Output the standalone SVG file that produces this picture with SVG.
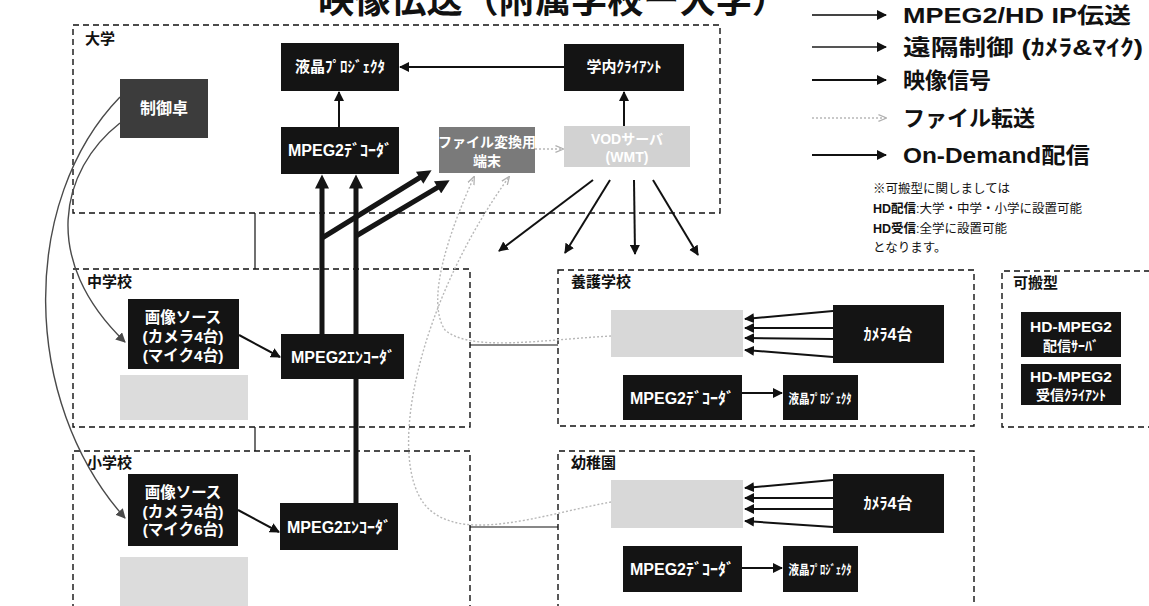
<svg xmlns="http://www.w3.org/2000/svg" width="1149" height="606" viewBox="0 0 1149 606">
<defs>
<style>
text{font-family:"Liberation Sans","Noto Sans CJK JP",sans-serif;}
.t{fill:#fff;font-weight:bold;text-anchor:middle;}
.lbl{fill:#111;font-weight:bold;font-size:15px;}
.frame{fill:none;stroke:#111;stroke-width:1.4;stroke-dasharray:6,4;}
.blk{fill:#141414;}
.thin{stroke:#111;stroke-width:2;fill:none;marker-end:url(#a);}
.thick{stroke:#151515;stroke-width:5;fill:none;marker-end:url(#tk);}
.ctl{stroke:#4a4a4a;stroke-width:1.4;fill:none;marker-end:url(#ac);}
.file{stroke:#b8b8b8;stroke-width:1.4;stroke-dasharray:2,2;fill:none;marker-end:url(#af);}
.link{stroke:#111;stroke-width:1.2;fill:none;}
.leg{fill:#111;font-size:22px;}
.note{fill:#111;font-size:12.5px;}
</style>
<marker id="a" viewBox="0 0 10 10" refX="9" refY="5" markerWidth="5" markerHeight="5" orient="auto" markerUnits="strokeWidth"><path d="M0,0 L10,5 L0,10 z" fill="#111"/></marker>
<marker id="tk" viewBox="0 0 10 10" refX="5" refY="5" markerWidth="3" markerHeight="2.8" orient="auto" markerUnits="strokeWidth"><path d="M0,0 L10,5 L0,10 z" fill="#151515"/></marker>
<marker id="ac" viewBox="0 0 10 10" refX="9" refY="5" markerWidth="7" markerHeight="7" orient="auto" markerUnits="strokeWidth"><path d="M0,0 L10,5 L0,10 z" fill="#4a4a4a"/></marker>
<marker id="af" viewBox="0 0 10 10" refX="9" refY="5" markerWidth="6" markerHeight="6" orient="auto" markerUnits="strokeWidth"><path d="M0,1 L10,5 L0,9" fill="none" stroke="#b0b0b0" stroke-width="1.5"/></marker>
</defs>
<rect width="1149" height="606" fill="#fff"/>

<text x="318" y="13" style="font-size:36px;font-weight:bold;fill:#111;" textLength="470" lengthAdjust="spacingAndGlyphs">映像伝送（附属学校ー大学）</text>

<g id="legend">
<line x1="812" y1="15" x2="886" y2="15" stroke="#444" stroke-width="2" marker-end="url(#a)"/>
<text class="leg" x="903" y="23" font-weight="bold" textLength="228" lengthAdjust="spacingAndGlyphs">MPEG2/HD  IP伝送</text>
<line x1="812" y1="47" x2="886" y2="47" stroke="#555" stroke-width="2" marker-end="url(#a)"/>
<text class="leg" x="903" y="55" font-weight="600" textLength="240" lengthAdjust="spacingAndGlyphs">遠隔制御 (ｶﾒﾗ&amp;ﾏｲｸ)</text>
<line x1="812" y1="80" x2="886" y2="80" stroke="#111" stroke-width="2" marker-end="url(#a)"/>
<text class="leg" x="903" y="88" font-weight="600">映像信号</text>
<line x1="812" y1="118" x2="886" y2="118" class="file"/>
<text class="leg" x="903" y="126" font-weight="600">ファイル転送</text>
<line x1="812" y1="155" x2="886" y2="155" stroke="#111" stroke-width="2" marker-end="url(#a)"/>
<text class="leg" x="903" y="163" font-weight="bold" textLength="187" lengthAdjust="spacingAndGlyphs">On-Demand配信</text>
<text class="note" x="873" y="193">※可搬型に関しましては</text>
<text class="note" x="873" y="213"><tspan font-weight="bold">HD配信</tspan>:大学・中学・小学に設置可能</text>
<text class="note" x="873" y="233"><tspan font-weight="bold">HD受信</tspan>:全学に設置可能</text>
<text class="note" x="873" y="252">となります。</text>
</g>

<g id="frames">
<g id="univ"><rect class="frame" x="73" y="25" width="647" height="188"/><text class="lbl" x="85" y="44">大学</text></g>
<g id="jhs"><rect class="frame" x="73" y="269" width="397" height="158"/><text class="lbl" x="87" y="287">中学校</text></g>
<g id="es"><path class="frame" d="M73,610 V451 H470 V610"/><text class="lbl" x="87" y="468">小学校</text></g>
<g id="special"><rect class="frame" x="558" y="270" width="416" height="156"/><text class="lbl" x="571" y="287">養護学校</text></g>
<g id="kinder"><path class="frame" d="M558,610 V451 H974 V610"/><text class="lbl" x="571" y="468">幼稚園</text></g>
<g id="portable"><path class="frame" d="M1160,271 H1002 V427 H1160"/><text class="lbl" x="1013" y="288">可搬型</text></g>
</g>

<g id="connectors">
<line class="link" x1="255" y1="213" x2="255" y2="269"/>
<line class="link" x1="255" y1="427" x2="255" y2="451"/>
<line class="link" x1="470" y1="345" x2="558" y2="345"/>
<line class="link" x1="470" y1="527" x2="558" y2="527"/>
<line class="thick" x1="356" y1="503" x2="356" y2="181.5"/>
<line class="thick" x1="322" y1="334" x2="322" y2="181.5"/>
<line class="thick" x1="322" y1="238" x2="425.6" y2="174"/>
<line class="thick" x1="356" y1="236" x2="443.6" y2="183.8"/>
<line class="thin" x1="564" y1="67" x2="400" y2="67"/>
<line class="thin" x1="339" y1="127" x2="339" y2="92"/>
<line class="thin" x1="624" y1="126" x2="624" y2="92"/>
<line class="thin" x1="239" y1="335" x2="280" y2="357"/>
<line class="thin" x1="238" y1="510" x2="279" y2="532"/>
<line class="thin" x1="742" y1="393" x2="782" y2="393"/>
<line class="thin" x1="742" y1="568" x2="782" y2="568"/>
<line class="thin" x1="833" y1="311" x2="745" y2="319"/>
<line class="thin" x1="833" y1="328" x2="745" y2="328"/>
<line class="thin" x1="833" y1="339" x2="745" y2="338"/>
<line class="thin" x1="833" y1="357" x2="745" y2="350"/>
<line class="thin" x1="833" y1="480" x2="745" y2="488"/>
<line class="thin" x1="833" y1="498" x2="745" y2="498"/>
<line class="thin" x1="833" y1="509" x2="745" y2="509"/>
<line class="thin" x1="833" y1="527" x2="745" y2="521"/>
<line class="thin" x1="593" y1="180" x2="499" y2="251"/>
<line class="thin" x1="610" y1="180" x2="565" y2="253"/>
<line class="thin" x1="634" y1="180" x2="635" y2="254"/>
<line class="thin" x1="653" y1="180" x2="698" y2="255"/>
<path class="ctl" d="M120,123 C60,170 40,260 125,342"/>
<path class="ctl" d="M120,97 C20,200 20,400 125,518"/>
<line class="file" x1="535" y1="149" x2="563" y2="149"/>
<path class="file" d="M611,336 C540,340 470,352 445,330 C425,300 450,230 474,177"/>
<path class="file" d="M611,502 C540,515 460,545 425,505 C385,455 420,300 509,177"/>
</g>

<g id="n-ctrl"><rect x="120" y="79" width="88" height="59" fill="#3c3c3c"/><text class="t" x="164" y="114" font-size="16">制御卓</text></g>
<g id="n-proj-u"><rect class="blk" x="281" y="43" width="118" height="48"/><text class="t" x="340" y="72" font-size="15">液晶ﾌﾟﾛｼﾞｪｸﾀ</text></g>
<g id="n-dec-u"><rect class="blk" x="281" y="127" width="118" height="47"/><text class="t" x="340" y="156" font-size="16">MPEG2ﾃﾞｺｰﾀﾞ</text></g>
<g id="n-conv"><rect x="439" y="127" width="96" height="46" fill="#7a7a7a"/><text class="t" x="487" y="147" font-size="14" fill="#f0f0f0">ファイル変換用</text><text class="t" x="487" y="166" font-size="14" fill="#f0f0f0">端末</text></g>
<g id="n-client"><rect class="blk" x="564" y="44" width="120" height="47"/><text class="t" x="624" y="72" font-size="15">学内ｸﾗｲｱﾝﾄ</text></g>
<g id="n-vod"><rect x="564" y="126" width="126" height="41" fill="#d2d2d2"/><text class="t" x="627" y="144" font-size="14" fill="#ececec">VODサーバ</text><text class="t" x="627" y="162" font-size="14" fill="#ececec">(WMT)</text></g>

<g id="n-src-j"><rect class="blk" x="128" y="299" width="111" height="70"/><text class="t" x="183" y="323" font-size="15.5">画像ソース</text><text class="t" x="183" y="342" font-size="15.5">(カメラ4台)</text><text class="t" x="183" y="361" font-size="15.5">(マイク4台)</text></g>
<g id="n-pc-j"><rect x="120" y="375" width="128" height="45" fill="#dcdcdc"/></g>
<g id="n-enc-j"><rect class="blk" x="281" y="334" width="123" height="45"/><text class="t" x="343" y="363" font-size="16">MPEG2ｴﾝｺｰﾀﾞ</text></g>

<g id="n-src-e"><rect class="blk" x="128" y="474" width="110" height="72"/><text class="t" x="183" y="498" font-size="15.5">画像ソース</text><text class="t" x="183" y="517" font-size="15.5">(カメラ4台)</text><text class="t" x="183" y="535" font-size="15.5">(マイク6台)</text></g>
<g id="n-pc-e"><rect x="120" y="557" width="128" height="55" fill="#dcdcdc"/></g>
<g id="n-enc-e"><rect class="blk" x="280" y="503" width="118" height="47"/><text class="t" x="339" y="533" font-size="16">MPEG2ｴﾝｺｰﾀﾞ</text></g>

<g id="n-pc-s"><rect x="611" y="310" width="132" height="47" fill="#d8d8d8"/></g>
<g id="n-cam-s"><rect class="blk" x="833" y="305" width="111" height="58"/><text class="t" x="888" y="340" font-size="16">ｶﾒﾗ4台</text></g>
<g id="n-dec-s"><rect class="blk" x="623" y="375" width="119" height="45"/><text class="t" x="682" y="404" font-size="16">MPEG2ﾃﾞｺｰﾀﾞ</text></g>
<g id="n-proj-s"><rect class="blk" x="783" y="375" width="75" height="45"/><text class="t" x="820" y="403" font-size="13" textLength="63" lengthAdjust="spacingAndGlyphs">液晶ﾌﾟﾛｼﾞｪｸﾀ</text></g>

<g id="n-pc-k"><rect x="611" y="480" width="132" height="48" fill="#d8d8d8"/></g>
<g id="n-cam-k"><rect class="blk" x="833" y="474" width="111" height="59"/><text class="t" x="888" y="509" font-size="16">ｶﾒﾗ4台</text></g>
<g id="n-dec-k"><rect class="blk" x="623" y="546" width="119" height="46"/><text class="t" x="682" y="575" font-size="16">MPEG2ﾃﾞｺｰﾀﾞ</text></g>
<g id="n-proj-k"><rect class="blk" x="783" y="546" width="75" height="46"/><text class="t" x="820" y="574" font-size="13" textLength="63" lengthAdjust="spacingAndGlyphs">液晶ﾌﾟﾛｼﾞｪｸﾀ</text></g>

<g id="n-hd-srv"><rect class="blk" x="1021" y="312" width="100" height="45"/><text class="t" x="1071" y="332" font-size="15.5">HD-MPEG2</text><text class="t" x="1071" y="351" font-size="14">配信ｻｰﾊﾞ</text></g>
<g id="n-hd-cli"><rect class="blk" x="1021" y="364" width="100" height="41"/><text class="t" x="1071" y="382" font-size="15.5">HD-MPEG2</text><text class="t" x="1071" y="400" font-size="14">受信ｸﾗｲｱﾝﾄ</text></g>
</svg>
